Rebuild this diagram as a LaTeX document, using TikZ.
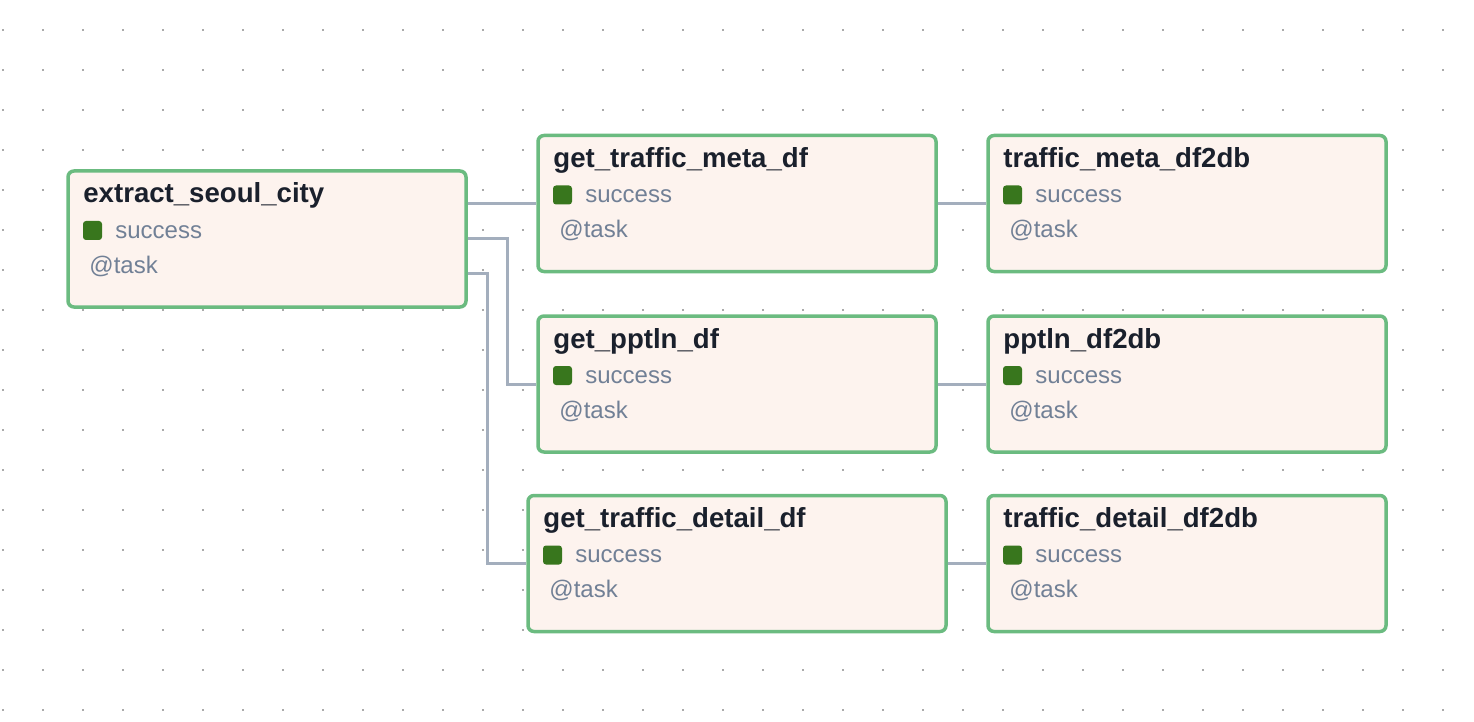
\documentclass[tikz,border=0pt]{standalone}
\usepackage{fontspec}
\setmainfont{Liberation Sans}
\usetikzlibrary{calc}
\definecolor{boxfill}{HTML}{FDF3EE}
\definecolor{boxline}{HTML}{6BBB80}
\definecolor{okgreen}{HTML}{38761D}
\definecolor{titlecol}{HTML}{1A202C}
\definecolor{subcol}{HTML}{718096}
\definecolor{edgecol}{HTML}{A3AEBD}
\definecolor{dotcol}{HTML}{AAAAAA}
\tikzset{
  taskbox/.style={draw=boxline, fill=boxfill, line width=1.75pt, rounded corners=3pt,
    anchor=north west, minimum height=68pt, inner sep=0pt, outer sep=0pt},
  tasktitle/.style={anchor=base west, inner sep=0pt, text=titlecol,
    font=\fontsize{13.8}{16}\selectfont\bfseries},
  tasksub/.style={anchor=base west, inner sep=0pt, text=subcol,
    font=\fontsize{12}{14}\selectfont},
  edgeline/.style={draw=edgecol, line width=1.5pt, shorten <=0.8pt, shorten >=0.8pt},
}
\newcommand\tasknode[5]{%
  \node[taskbox, minimum width={0.5pt*#4}] (#1) at (#2,#3) {};
  \node[tasktitle] (#1-t) at ($(#1.north west)+(15,32)$) {#5};
  \fill[okgreen, rounded corners=1.5pt] ($(#1.north west)+(15,50)$) rectangle ++(19,19);
  \node[tasksub] (#1-s) at ($(#1.north west)+(47,67)$) {success};
  \node[tasksub] (#1-a) at ($(#1.north west)+(21,102)$) {@task};
}
\begin{document}
\begin{tikzpicture}[x=0.5pt,y=-0.5pt]
\useasboundingbox (0,0) rectangle (1474,722);
\foreach \i in {0,...,36}{\foreach \j in {0,...,17}{\fill[dotcol] (1.7+40*\i,29+40*\j) rectangle ++(2,2);}}
\tasknode{ex}{68}{171}{398}{extract\_seoul\_city}
\tasknode{gm}{538}{135.5}{398}{get\_traffic\_meta\_df}
\tasknode{tm}{988}{135.5}{398}{traffic\_meta\_df2db}
\tasknode{gp}{538}{316}{398}{get\_pptln\_df}
\tasknode{pp}{988}{316}{398}{pptln\_df2db}
\tasknode{gd}{528}{495.5}{418}{get\_traffic\_detail\_df}
\tasknode{td}{988}{495.5}{398}{traffic\_detail\_df2db}
\draw[edgeline] (ex.east |- gm.west) -- (gm.west);
\draw[edgeline] (ex.east) -- ++(41,0) |- (gp.west);
\draw[edgeline] ($(ex.east)+(0,34)$) -- ++(21,0) |- (gd.west);
\draw[edgeline] (gm.east) -- (tm.west);
\draw[edgeline] (gp.east) -- (pp.west);
\draw[edgeline] (gd.east) -- (td.west);
\end{tikzpicture}
\end{document}
